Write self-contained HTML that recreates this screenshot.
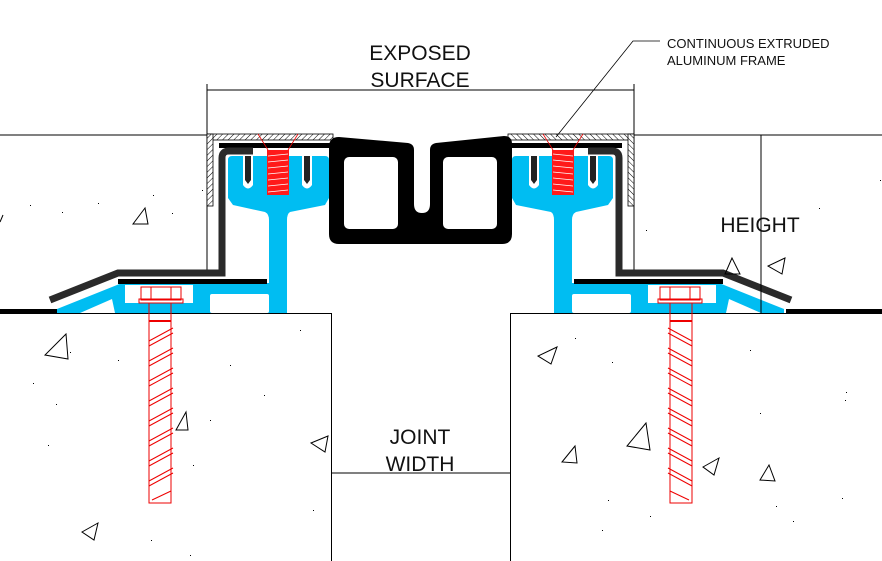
<!DOCTYPE html>
<html><head><meta charset="utf-8"><style>
html,body{margin:0;padding:0;background:#fff;}
svg{display:block;}
text{font-family:"Liberation Sans",sans-serif;fill:#111;}
</style></head><body>
<svg width="882" height="561" viewBox="0 0 882 561" xmlns="http://www.w3.org/2000/svg">
<defs>
<pattern id="h" width="4" height="4" patternUnits="userSpaceOnUse" patternTransform="rotate(45)">
<rect width="4" height="4" fill="#fff"/><line x1="0" y1="0" x2="0" y2="4" stroke="#000" stroke-width="1"/>
</pattern>
<g id="half">
  <!-- hatched angle -->
  <rect x="207" y="134" width="126" height="6" fill="url(#h)" stroke="#000" stroke-width="0.8"/>
  <rect x="207" y="134" width="6" height="72" fill="url(#h)" stroke="#000" stroke-width="0.8"/>
  <!-- black strip -->
  <rect x="219" y="143" width="114" height="5" fill="#000"/>
  <!-- blue base -->
  <path d="M57,313 L57,309 L122,283 L269,283 L269,313 Z" fill="#00bdf2"/>
  <path d="M80,313 L112,299 L115,313 Z" fill="#fff"/>
  <rect x="125" y="285" width="68" height="18" fill="#fff"/>
  <rect x="210" y="294" width="59" height="19" rx="2" fill="#fff"/>
  <!-- blue head + stem -->
  <path d="M228,160 Q228,156 232,156 L325,156 Q329,156 329,160 L329,198 L325,205 L290,212 Q287,214 287,220 L287,313 L269,313 L269,220 Q269,214 265,212 L233,205 L228,198 Z" fill="#00bdf2"/>
  <!-- prong slots -->
  <path d="M243,156 L243,185 Q248,192 253,185 L253,156 Z" fill="#fff"/>
  <path d="M302,156 L302,185 Q307,192 312,185 L312,156 Z" fill="#fff"/>
  <path d="M245,156 L245,180 L248,184 L251,180 L251,156 Z" fill="#222"/>
  <path d="M304,156 L304,180 L307,184 L310,180 L310,156 Z" fill="#222"/>
  <!-- charcoal angle -->
  <path d="M50,300 L118,273 L222,273 L222,158 Q222,151 229,151 L253,151" fill="none" stroke="#2a2a2a" stroke-width="7"/>
  <rect x="118" y="279" width="149" height="5" fill="#000"/>
  <!-- red insert -->
  <rect x="267" y="150" width="22" height="45" fill="#ff1a1a"/>
  <g stroke="#fff" stroke-width="0.8">
    <line x1="268" y1="156" x2="288" y2="154"/><line x1="268" y1="162" x2="288" y2="160"/>
    <line x1="268" y1="168" x2="288" y2="166"/><line x1="268" y1="174" x2="288" y2="172"/>
    <line x1="268" y1="180" x2="288" y2="178"/><line x1="268" y1="186" x2="288" y2="184"/>
    <line x1="268" y1="192" x2="288" y2="190"/>
  </g>
  <path d="M258,134 L268,150 M298,134 L288,150" stroke="#e00" stroke-width="0.8" fill="none"/>
  <!-- screw -->
  <g stroke="#e00" stroke-width="1" fill="none">
    <rect x="141" y="287" width="40" height="13"/>
    <line x1="151" y1="287" x2="151" y2="300"/><line x1="171" y1="287" x2="171" y2="300"/>
    <rect x="139" y="299" width="44" height="4"/>
    <rect x="149" y="303" width="22" height="200"/>
    <line x1="149" y1="321" x2="171" y2="321" stroke-width="2"/>
    <path d="M149,341 L173,328 M149,346 L173,333 M149,361 L173,348 M149,366 L173,353 M149,381 L173,368 M149,386 L173,373 M149,401 L173,388 M149,406 L173,393 M149,421 L173,408 M149,426 L173,413 M149,441 L173,428 M149,446 L173,433 M149,461 L173,448 M149,466 L173,453 M149,481 L173,468 M149,486 L173,473 M152,500 L171,491"/>
  </g>
</g>
</defs>

<!-- upper concrete lines -->
<line x1="0" y1="135" x2="207" y2="135" stroke="#000"/>
<line x1="634" y1="135" x2="882" y2="135" stroke="#000"/>
<line x1="207" y1="84" x2="207" y2="272" stroke="#000"/>
<line x1="634" y1="84" x2="634" y2="272" stroke="#000"/>
<!-- lower slabs -->
<path d="M0,313.5 H331.5 V561" fill="none" stroke="#000"/>
<path d="M882,313.5 H510.5 V561" fill="none" stroke="#000"/>
<rect x="0" y="309" width="58" height="5" fill="#000"/>
<rect x="786" y="309" width="96" height="5" fill="#000"/>

<use href="#half"/>
<use href="#half" transform="matrix(-1 0 0 1 841 0)"/>

<!-- center seal -->
<path d="M339,137 L408,143 Q414,144 414,150 L414,204 Q414,213 422,213 Q430,213 430,204 L430,150 Q430,144 436,143 L504,136 Q512,136 512,144 L512,234 Q512,244 502,244 L339,244 Q329,244 329,234 L329,147 Q329,137 339,137 Z" fill="#000"/>
<rect x="344" y="157" width="54" height="72" rx="5" fill="#fff"/>
<rect x="443" y="157" width="54" height="72" rx="5" fill="#fff"/>
<path d="M419,143 L419,200 Q422,205 425,200 L425,143 Z" fill="#fff"/>

<!-- dimensions -->
<line x1="207" y1="90" x2="634" y2="90" stroke="#000"/>
<text x="420" y="60" font-size="21" text-anchor="middle">EXPOSED</text>
<text x="420" y="87" font-size="21" text-anchor="middle">SURFACE</text>
<line x1="761" y1="135" x2="761" y2="313" stroke="#000"/>
<text x="760" y="232" font-size="21" text-anchor="middle">HEIGHT</text>
<line x1="331" y1="473" x2="510" y2="473" stroke="#000"/>
<text x="420" y="444" font-size="21" text-anchor="middle">JOINT</text>
<text x="420" y="471" font-size="21" text-anchor="middle">WIDTH</text>
<!-- leader -->
<path d="M660,41 L633,41 L556,137" fill="none" stroke="#000" stroke-width="0.8"/>
<text x="667" y="48" font-size="13">CONTINUOUS EXTRUDED</text>
<text x="667" y="65" font-size="13">ALUMINUM FRAME</text>

<!-- aggregate triangles -->
<g fill="none" stroke="#000" stroke-width="1">
<path d="M145,208 L133,224 L148,224 Z"/>
<path d="M66,334 L45,355 L68,359 Z"/>
<path d="M98,523 L82,532 L94,540 Z"/>
<path d="M186,412 L176,430 L188,430 Z"/>
<path d="M328,436 L311,443 L325,452 Z"/>
<path d="M557,347 L538,356 L551,364 Z"/>
<path d="M646,423 L627,446 L650,450 Z"/>
<path d="M575,446 L562,462 L577,463 Z"/>
<path d="M719,458 L703,467 L714,475 Z"/>
<path d="M769,465 L760,480 L775,481 Z"/>
<path d="M732,258 L725,274 L740,274 Z"/>
<path d="M785,258 L768,266 L782,274 Z"/>
<path d="M3,215 L0,222"/>
</g>
<g fill="#000">
<rect x="30" y="205" width="1" height="1"/><rect x="62" y="212" width="1" height="1"/><rect x="98" y="203" width="1" height="1"/>
<rect x="172" y="213" width="1" height="1"/><rect x="153" y="195" width="1" height="1"/><rect x="202" y="190" width="1" height="1"/>
<rect x="70" y="352" width="1" height="1"/><rect x="118" y="360" width="1" height="1"/><rect x="33" y="383" width="1" height="1"/>
<rect x="56" y="404" width="1" height="1"/><rect x="230" y="365" width="1" height="1"/><rect x="300" y="330" width="1" height="1"/>
<rect x="264" y="395" width="1" height="1"/><rect x="210" y="420" width="1" height="1"/><rect x="48" y="445" width="1" height="1"/>
<rect x="193" y="465" width="1" height="1"/><rect x="313" y="510" width="1" height="1"/><rect x="151" y="540" width="1" height="1"/>
<rect x="190" y="555" width="1" height="1"/><rect x="575" y="338" width="1" height="1"/><rect x="612" y="362" width="1" height="1"/>
<rect x="750" y="350" width="1" height="1"/><rect x="846" y="392" width="1" height="1"/><rect x="760" y="413" width="1" height="1"/>
<rect x="845" y="400" width="1" height="1"/><rect x="608" y="500" width="1" height="1"/><rect x="776" y="506" width="1" height="1"/>
<rect x="793" y="521" width="1" height="1"/><rect x="842" y="498" width="1" height="1"/><rect x="650" y="516" width="1" height="1"/>
<rect x="602" y="530" width="1" height="1"/><rect x="880" y="180" width="1" height="1"/><rect x="819" y="208" width="1" height="1"/>
<rect x="646" y="230" width="1" height="1"/>
</g>
</svg>
</body></html>
